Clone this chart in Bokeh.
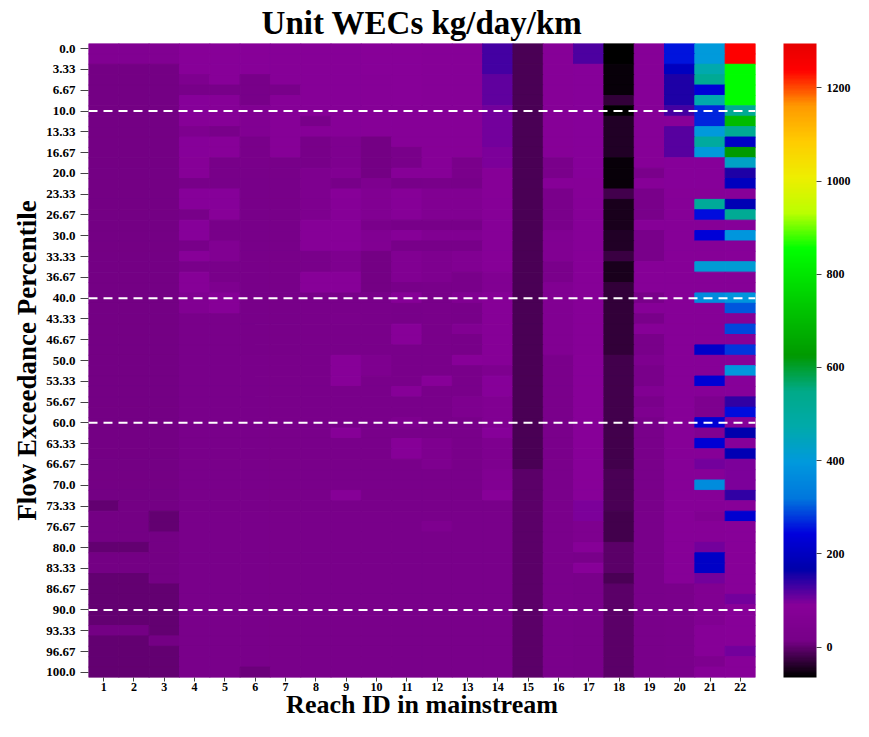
import numpy as np
from bokeh.plotting import figure
from bokeh.models import (ColumnDataSource, LinearColorMapper, ColorBar, FixedTicker,
                          Span, Range1d, LinearAxis)
from bokeh.transform import transform
from bokeh.embed import file_html
from bokeh.resources import INLINE

# ---------------- data ----------------
reach_ids = list(range(1, 23))
n_rows = 61                      # flow exceedance percentiles 0, 1.67, ..., 100
tick_rows = list(range(0, 61, 2))
percentile_tick_labels = ["0.0", "3.33", "6.67", "10.0", "13.33", "16.67", "20.0", "23.33",
                          "26.67", "30.0", "33.33", "36.67", "40.0", "43.33", "46.67", "50.0",
                          "53.33", "56.67", "60.0", "63.33", "66.67", "70.0", "73.33", "76.67",
                          "80.0", "83.33", "86.67", "90.0", "93.33", "96.67", "100.0"]
guide_percentiles = [10, 40, 60, 90]
cbar_ticks = [0, 200, 400, 600, 800, 1000, 1200]
wec_low, wec_high = -65, 1295

# unit WECs per reach as runs: (first_row, last_row, kg/day/km)
reach_01 = [(0,1,60),(2,43,12),(44,44,0),(45,47,12),(48,48,0),(49,50,12),(51,55,0),(56,56,12),(57,60,0)]
reach_02 = [(0,1,60),(2,47,12),(48,48,0),(49,50,12),(51,55,0),(56,56,12),(57,60,0)]
reach_03 = [(0,1,60),(2,44,12),(45,46,0),(47,51,12),(52,56,0),(57,57,10),(58,60,2)]
reach_04 = [(0,2,85),(3,3,45),(4,4,15),(5,6,90),(7,7,80),(8,8,45),(9,10,90),(11,12,80),(13,13,15),
            (14,15,90),(16,16,15),(17,18,90),(19,19,15),(20,20,85),(21,21,25),(22,23,80),(24,25,60),(26,60,20)]
reach_05 = [(0,3,85),(4,4,15),(5,7,80),(8,8,25),(9,10,85),(11,13,15),(14,15,90),(16,16,85),(17,18,15),
            (19,20,60),(21,22,25),(23,23,45),(24,25,80),(26,60,20)]
reach_06 = [(0,2,85),(3,5,15),(6,8,60),(9,11,25),(12,29,15),(30,59,20),(60,60,5)]
reach_07 = [(0,3,80),(4,4,25),(5,10,80),(11,29,15),(30,60,20)]
reach_08 = [(0,6,80),(7,7,20),(8,8,80),(9,11,15),(12,16,45),(17,19,80),(20,21,25),(22,23,85),(24,29,25),(30,60,20)]
reach_09 = [(0,8,80),(9,11,45),(12,12,60),(13,13,15),(14,14,85),(15,16,80),(17,19,85),(20,21,45),(22,23,85),
            (24,25,25),(26,26,30),(27,29,25),(30,32,85),(33,36,20),(37,37,80),(38,42,20),(43,43,80),(44,60,20)]
reach_10 = [(0,2,85),(3,8,80),(9,12,10),(13,13,45),(14,16,60),(17,17,30),(18,19,60),(20,23,10),(24,29,25),
            (30,31,45),(32,60,20)]
reach_11 = [(0,5,85),(6,9,80),(10,11,25),(12,12,80),(13,13,15),(14,16,80),(17,17,15),(18,18,80),(19,19,15),
            (20,22,60),(23,23,15),(24,24,80),(25,26,15),(27,28,85),(29,32,25),(33,33,80),(34,35,25),(36,36,45),
            (37,37,25),(38,39,80),(40,60,20)]
reach_12 = [(0,12,80),(13,13,25),(14,16,60),(17,17,15),(18,18,60),(19,19,15),(20,22,45),(23,31,25),(32,32,85),
            (33,37,25),(38,40,45),(41,45,20),(46,46,45),(47,60,20)]
reach_13 = [(0,10,80),(11,12,30),(13,13,15),(14,16,60),(17,17,15),(18,18,60),(19,19,15),(20,21,60),(22,23,25),
            (24,24,60),(25,26,15),(27,27,60),(28,29,15),(30,30,85),(31,33,25),(34,35,45),(36,40,25),(41,60,20)]
reach_14 = [(0,2,130),(3,5,112),(6,9,100),(10,11,95),(12,21,80),(22,23,60),(24,30,80),(31,31,45),(32,33,90),
            (34,36,60),(37,37,90),(38,40,45),(41,42,60),(43,43,85),(44,60,25)]
reach_15 = [(0,40,-12),(41,60,-3)]
reach_16 = [(0,10,80),(11,12,30),(13,13,80),(14,17,30),(18,20,60),(21,22,30),(23,29,60),(30,60,30)]
reach_17 = [(0,1,125),(2,12,90),(13,29,80),(30,43,85),(44,45,95),(46,47,45),(48,48,80),(49,49,25),(50,50,85),(51,60,25)]
reach_18 = [(0,1,-63),(2,4,-55),(5,5,-30),(6,6,-63),(7,10,-42),(11,13,-55),(14,14,-18),(15,17,-48),(18,19,-42),
            (20,20,-25),(21,22,-48),(23,29,-28),(30,40,-18),(41,44,-14),(45,47,-22),(48,50,-6),(51,51,-16),(52,60,-6)]
reach_19 = [(0,11,80),(12,12,30),(13,13,80),(14,16,25),(17,17,80),(18,20,25),(21,23,80),(24,24,25),(25,25,80),
            (26,26,25),(27,27,80),(28,29,25),(30,30,45),(31,32,25),(33,33,60),(34,34,30),(35,35,45),(36,60,25)]
reach_20 = [(0,1,257),(2,2,196),(3,5,150),(6,6,130),(7,7,85),(8,10,120),(11,13,90),(14,51,80),(52,60,30)]
reach_21 = [(0,1,400),(2,2,470),(3,3,520),(4,4,235),(5,5,470),(6,7,265),(8,8,400),(9,9,500),(10,10,400),
            (11,13,90),(14,14,80),(15,15,510),(16,16,250),(17,17,80),(18,18,235),(19,20,80),(21,21,410),
            (22,23,80),(24,24,370),(25,28,80),(29,29,215),(30,31,80),(32,32,230),(33,33,80),(34,35,45),
            (36,36,230),(37,37,60),(38,38,230),(39,39,80),(40,40,100),(41,41,80),(42,42,370),(43,44,80),
            (45,45,60),(46,47,80),(48,48,100),(49,50,210),(51,51,100),(52,55,60),(56,58,80),(59,59,45),(60,60,80)]
reach_22 = [(0,1,1240),(2,5,850),(6,6,520),(7,7,700),(8,8,520),(9,9,210),(10,10,630),(11,11,430),(12,12,150),
            (13,13,200),(14,14,85),(15,15,180),(16,16,520),(17,17,90),(18,18,390),(19,20,85),(21,21,410),
            (22,23,80),(24,24,390),(25,25,300),(26,26,80),(27,27,290),(28,28,80),(29,29,280),(30,30,85),
            (31,31,390),(32,33,90),(34,34,140),(35,35,250),(36,36,90),(37,37,170),(38,38,90),(39,39,180),
            (40,42,95),(43,43,140),(44,44,85),(45,45,225),(46,52,85),(53,53,100),(54,57,85),(58,58,100),(59,60,85)]

reach_runs = [reach_01, reach_02, reach_03, reach_04, reach_05, reach_06, reach_07, reach_08, reach_09,
              reach_10, reach_11, reach_12, reach_13, reach_14, reach_15, reach_16, reach_17, reach_18,
              reach_19, reach_20, reach_21, reach_22]

grid = np.full((n_rows, len(reach_ids)), np.nan)
for j, runs in enumerate(reach_runs):
    for a, b, v in runs:
        grid[a:b + 1, j] = v

xs, ys, vals = [], [], []
for i in range(n_rows):
    for j, rid in enumerate(reach_ids):
        xs.append(rid)
        ys.append(i)
        vals.append(float(grid[i, j]))
source = ColumnDataSource(dict(reach=xs, row=ys, wec=vals))

# ---------------- colormap (nipy_spectral, truncated) ----------------
_r = [(0, 0), (0.05, 0.4667), (0.10, 0.5333), (0.15, 0), (0.60, 0), (0.65, 0.7333), (0.70, 0.9333),
      (0.75, 1.0), (0.85, 1.0), (0.90, 0.8667), (0.95, 0.8), (1, 0.8)]
_g = [(0, 0), (0.20, 0), (0.25, 0.4667), (0.30, 0.6), (0.35, 0.6667), (0.40, 0.6667), (0.45, 0.6),
      (0.50, 0.7333), (0.55, 0.8667), (0.60, 1.0), (0.65, 1.0), (0.70, 0.9333), (0.75, 0.8), (0.80, 0.6),
      (0.85, 0), (0.95, 0), (1, 0.8)]
_b = [(0, 0), (0.05, 0.5333), (0.10, 0.6), (0.15, 0.6667), (0.20, 0.8667), (0.30, 0.8667), (0.35, 0.6667),
      (0.40, 0.5333), (0.45, 0), (0.95, 0), (1, 0.8)]


def _chan(pts, t):
    return np.interp(t, [q[0] for q in pts], [q[1] for q in pts])


t_max = (wec_high - wec_low) / 1535.0
palette = []
for t in np.linspace(0, t_max, 256):
    r, g, b = (int(round(255 * _chan(c, t))) for c in (_r, _g, _b))
    palette.append("#%02x%02x%02x" % (r, g, b))

mapper = LinearColorMapper(palette=palette, low=wec_low, high=wec_high)

# ---------------- figure ----------------
FONT = "Liberation Serif"
p = figure(width=853, height=721, output_backend="svg", toolbar_location=None,
           x_range=Range1d(0.5, 22.5), y_range=Range1d(n_rows - 0.5, -0.5),
           title="Unit WECs kg/day/km",
           min_border_left=79, min_border_top=0, min_border_bottom=0, min_border_right=0)
p.outline_line_color = None
p.grid.visible = False
p.background_fill_color = "white"

p.title.align = "center"
p.title.text_font = FONT
p.title.text_font_style = "bold"
p.title.text_font_size = "33px"
p.title.text_color = "black"
p.title.standoff = 5

p.rect(x="reach", y="row", width=1, height=1, source=source,
       fill_color=transform("wec", mapper), line_color=transform("wec", mapper), line_width=1)

for pct in guide_percentiles:
    p.add_layout(Span(location=pct * (n_rows - 1) / 100.0, dimension="width",
                      line_color="white", line_dash="9 6", line_width=2))

# axes
p.xaxis.ticker = FixedTicker(ticks=reach_ids)
p.yaxis.ticker = FixedTicker(ticks=tick_rows)
p.yaxis.major_label_overrides = {r: lab for r, lab in zip(tick_rows, percentile_tick_labels)}
for ax in (p.xaxis[0], p.yaxis[0]):
    ax.axis_line_color = None
    ax.minor_tick_line_color = None
    ax.major_tick_in = 0
    ax.major_tick_line_color = "#444444"
    ax.major_label_text_font = FONT
    ax.major_label_text_font_style = "bold"
    ax.major_label_text_color = "black"
    ax.axis_label_text_font = FONT
    ax.axis_label_text_font_style = "bold"
    ax.axis_label_text_color = "black"
p.xaxis.major_tick_out = 4
p.xaxis.major_label_standoff = 1
p.xaxis.major_label_text_font_size = "12px"
p.xaxis.axis_label = "Reach ID in mainstream"
p.xaxis.axis_label_text_font_size = "26px"
p.xaxis.axis_label_standoff = -4
p.yaxis.major_tick_out = 8
p.yaxis.major_label_standoff = 5
p.yaxis.major_label_text_font_size = "13px"
p.yaxis.axis_label = "Flow Exceedance Percentile"
p.yaxis.axis_label_text_font_size = "27px"
p.yaxis.axis_label_standoff = 1

# invisible spacer at the far left (keeps the y label off the edge)
left_pad = LinearAxis(ticker=FixedTicker(ticks=[]), major_tick_out=0, major_tick_in=0,
                      major_label_standoff=0, axis_line_color=None, major_tick_line_color=None,
                      minor_tick_line_color=None, axis_label=" ", axis_label_standoff=0,
                      axis_label_text_font_size="6px", axis_label_text_color="white")
p.add_layout(left_pad, "left")

# invisible spacer between the frame and the colour bar
spacer = LinearAxis(ticker=FixedTicker(ticks=[]), major_tick_out=0, major_tick_in=0,
                    major_label_standoff=0, axis_line_color=None, major_tick_line_color=None,
                    minor_tick_line_color=None, axis_label=" ", axis_label_standoff=0,
                    axis_label_text_font_size="22px", axis_label_text_color="white")
p.add_layout(spacer, "right")

# colour bar
cb = ColorBar(color_mapper=mapper, ticker=FixedTicker(ticks=cbar_ticks), width=33,
              padding=0, margin=0, label_standoff=5, major_tick_out=5, major_tick_in=0,
              major_tick_line_color="#444444", bar_line_color=None, border_line_color=None,
              background_fill_color=None, minor_tick_line_color=None,
              major_label_text_font=FONT, major_label_text_font_style="bold",
              major_label_text_font_size="12px", major_label_text_color="black")
p.add_layout(cb, "right")

open("out.html", "w").write(file_html(p, INLINE))
